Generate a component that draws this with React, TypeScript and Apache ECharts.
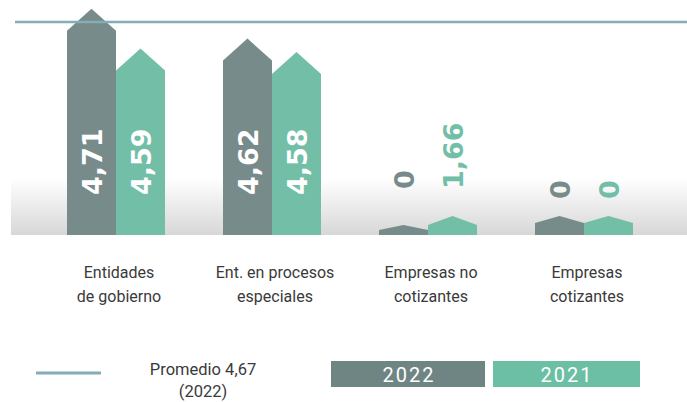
import React, { useEffect, useRef } from 'react';
import * as echarts from 'echarts';

// ---- data ----
const categories = ['Entidades\nde gobierno', 'Ent. en procesos\nespeciales', 'Empresas no\ncotizantes', 'Empresas\ncotizantes'];
const seriesNames = ['2022', '2021'];
const values2022 = [4.71, 4.62, 0, 0];
const values2021 = [4.59, 4.58, 1.66, 0];
const average2022 = 4.67;
const averageLines = ['Promedio 4,67', '(2022)'];

// ---- styling ----
const Y_MIN = 4.03;
const Y_MAX = 4.73;
const BAR_W = 49;
const PEAK = 22;
const COLORS = ['#788b8b', '#73bea6'];
const LEGEND_COLORS = ['#6f8584', '#6cbfa4'];
// drawing of bars whose value is below the visible axis range: [body, peak] per series
const STUBS: ([number, number][] | null)[] = [null, null, [[5, 5], [10, 9]], [[12, 7], [12, 7]]];
const SMALL_LABEL_LIFT = [0, 0, 46, 36];
const VALUE_FONT = 'bold 27px "DejaVu Sans"';

const fmt = (v: number) => String(v).replace('.', ',');

function makeRender(si: number, color: string) {
  return (params: any, api: any) => {
    const i = params.dataIndex;
    const v = api.value(1) as number;
    const base = api.coord([i, Y_MIN]);
    const cx = base[0];
    const baseY = base[1];
    const x0 = si === 0 ? cx - BAR_W : cx;
    const xm = x0 + BAR_W / 2;
    let tipY: number;
    let shoulderY: number;
    let big = true;
    if (v >= Y_MIN) {
      tipY = api.coord([i, v])[1];
      shoulderY = tipY + PEAK;
    } else {
      const st = (STUBS[i] as [number, number][])[si];
      shoulderY = baseY - st[0];
      tipY = shoulderY - st[1];
      big = false;
    }
    return {
      type: 'group',
      children: [
        {
          type: 'polygon',
          shape: {
            points: [
              [x0, baseY],
              [x0, shoulderY],
              [xm, tipY],
              [x0 + BAR_W, shoulderY],
              [x0 + BAR_W, baseY],
            ],
          },
          style: { fill: color },
        },
        {
          type: 'text',
          x: xm + 1,
          y: big ? baseY - 40 : baseY - SMALL_LABEL_LIFT[i],
          rotation: Math.PI / 2,
          style: {
            text: fmt(v),
            fill: big ? '#ffffff' : color,
            font: VALUE_FONT,
            align: 'left',
            verticalAlign: 'middle',
          },
        },
      ],
    };
  };
}

export default function App() {
  const ref = useRef<HTMLDivElement>(null);
  useEffect(() => {
    if (!ref.current) return;
    const chart = echarts.init(ref.current, undefined, { renderer: 'svg' });
    const allValues = [values2022, values2021];
    chart.setOption({
      animation: false,
      backgroundColor: '#ffffff',
      grid: [
        { left: 38, right: 25, top: 2, bottom: 167 },
        { left: 15, right: 0, top: 2, bottom: 167 },
      ],
      xAxis: [
        {
          type: 'category',
          gridIndex: 0,
          data: categories,
          axisLine: { show: false },
          axisTick: { show: false },
          axisLabel: {
            interval: 0,
            hideOverlap: false,
            margin: 25,
            fontFamily: 'Roboto',
            fontSize: 16,
            lineHeight: 24,
            color: '#3a3a3a',
            padding: [0, 0, 0, 6],
          },
        },
        { type: 'value', gridIndex: 1, min: 0, max: 1, show: false },
      ],
      yAxis: [
        { type: 'value', gridIndex: 0, min: Y_MIN, max: Y_MAX, show: false },
        { type: 'value', gridIndex: 1, min: Y_MIN, max: Y_MAX, show: false },
      ],
      graphic: [
        {
          type: 'rect',
          z: -10,
          shape: { x: 11, y: 178, width: 676, height: 57 },
          style: {
            fill: new echarts.graphic.LinearGradient(0, 0, 0, 1, [
              { offset: 0, color: '#ffffff' },
              { offset: 1, color: '#d7d7d7' },
            ]),
          },
        },
        {
          type: 'line',
          shape: { x1: 36, y1: 373, x2: 101, y2: 373 },
          style: { stroke: '#84adb5', lineWidth: 3 },
        },
        {
          type: 'text',
          x: 203,
          y: 380,
          style: {
            text: averageLines.join('\n'),
            font: '16.5px Roboto',
            lineHeight: 22,
            fill: '#3a3a3a',
            align: 'center',
            verticalAlign: 'middle',
          },
        },
        ...seriesNames.map((n, k) => ({
          type: 'group',
          children: [
            {
              type: 'rect',
              shape: { x: k === 0 ? 331 : 493, y: 361, width: k === 0 ? 154 : 147, height: 26 },
              style: { fill: LEGEND_COLORS[k] },
            },
            {
              type: 'text',
              x: k === 0 ? 408 : 566,
              y: 375,
              style: {
                text: n.split('').join('\u200A'),
                font: '20px Roboto',
                fill: '#ffffff',
                align: 'center',
                verticalAlign: 'middle',
              },
            },
          ],
        })),
      ],
      series: [
        ...allValues.map((vals, si) => ({
          type: 'custom',
          name: seriesNames[si],
          xAxisIndex: 0,
          yAxisIndex: 0,
          clip: false,
          renderItem: makeRender(si, COLORS[si]),
          encode: { x: 0, y: 1 },
          data: vals.map((v, i) => [i, v]),
          z: 2,
        })),
        {
          type: 'line',
          name: 'Promedio',
          xAxisIndex: 1,
          yAxisIndex: 1,
          data: [
            [0, average2022],
            [1, average2022],
          ],
          symbol: 'none',
          lineStyle: { color: '#84adb5', width: 2.5 },
          z: 5,
          silent: true,
        },
      ],
    });
    return () => chart.dispose();
  }, []);
  return <div ref={ref} style={{ position: 'absolute', left: 0, top: 0, width: 687, height: 402 }} />;
}
